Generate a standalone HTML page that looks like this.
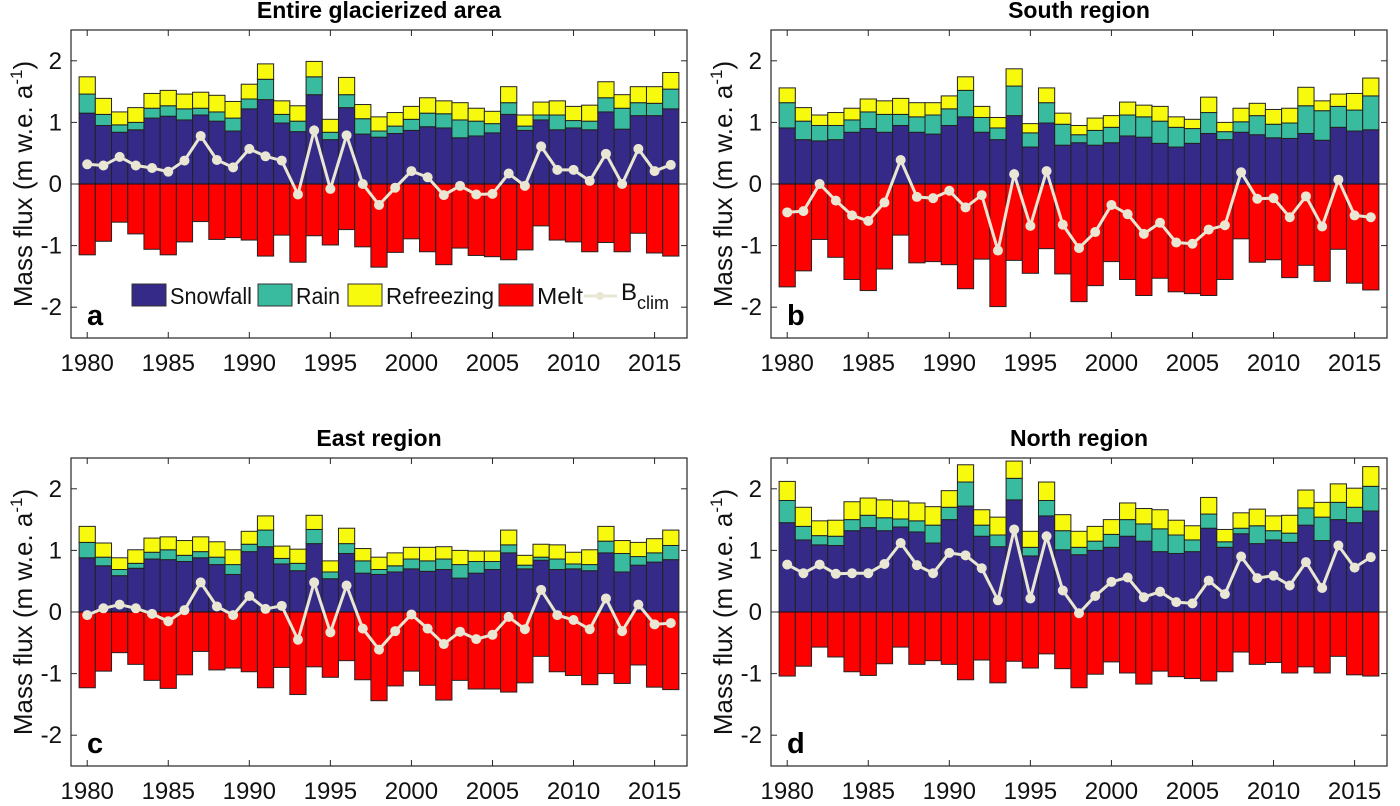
<!DOCTYPE html>
<html><head><meta charset="utf-8">
<style>
html,body{margin:0;padding:0;background:#fff;}
svg{display:block;font-family:"Liberation Sans",Arial,sans-serif;}
</style></head>
<body>
<svg id="fig" width="1400" height="806" viewBox="0 0 1400 806" xmlns="http://www.w3.org/2000/svg"></svg>
<script>
const years = [1980,1981,1982,1983,1984,1985,1986,1987,1988,1989,1990,1991,1992,1993,1994,1995,1996,1997,1998,1999,2000,2001,2002,2003,2004,2005,2006,2007,2008,2009,2010,2011,2012,2013,2014,2015,2016];
const yTicks = [-2,-1,0,1,2];
const xTicks = [1980,1985,1990,1995,2000,2005,2010,2015];
const seriesNames = ["Snowfall","Rain","Refreezing","Melt"];

// Panel a — cumulative stack tops: snowfall, snowfall+rain, snowfall+rain+refreezing
const aSnow = [1.15,0.95,0.84,0.88,1.07,1.10,1.04,1.12,1.02,0.86,1.22,1.37,0.99,0.85,1.45,0.72,1.24,0.81,0.76,0.82,0.87,0.93,0.91,0.75,0.78,0.83,1.13,0.87,1.04,0.88,0.91,0.88,1.17,0.89,1.11,1.11,1.22];
const aRain = [1.46,1.13,0.96,1.00,1.23,1.27,1.22,1.23,1.17,1.07,1.38,1.70,1.13,1.02,1.74,0.84,1.45,1.06,0.86,0.94,1.05,1.15,1.14,1.04,1.02,0.98,1.32,0.94,1.12,1.12,1.03,1.02,1.40,1.23,1.32,1.31,1.54];
const aRefr = [1.74,1.39,1.17,1.24,1.47,1.52,1.46,1.49,1.44,1.34,1.62,1.95,1.35,1.27,1.99,1.05,1.73,1.29,1.09,1.16,1.26,1.40,1.35,1.32,1.23,1.18,1.58,1.12,1.33,1.35,1.26,1.28,1.66,1.45,1.58,1.58,1.81];
const aMelt = [-1.15,-0.93,-0.62,-0.81,-1.06,-1.15,-0.94,-0.61,-0.90,-0.87,-0.91,-1.17,-0.83,-1.27,-0.84,-0.99,-0.74,-1.02,-1.35,-1.11,-0.89,-1.10,-1.31,-1.04,-1.16,-1.18,-1.23,-1.07,-0.68,-0.91,-0.94,-1.10,-0.95,-1.10,-0.80,-1.12,-1.17];
const aB = [0.32,0.30,0.44,0.30,0.26,0.20,0.38,0.78,0.39,0.27,0.57,0.45,0.38,-0.17,0.87,-0.08,0.79,0.00,-0.34,-0.06,0.21,0.11,-0.18,-0.03,-0.17,-0.16,0.17,-0.03,0.61,0.23,0.23,0.05,0.49,0.00,0.57,0.21,0.31];

// Panel b
const bSnow = [0.91,0.72,0.70,0.72,0.84,0.90,0.84,0.95,0.84,0.81,0.95,1.09,0.84,0.72,1.11,0.60,0.99,0.63,0.67,0.63,0.67,0.78,0.76,0.66,0.60,0.66,0.82,0.72,0.84,0.80,0.75,0.74,0.82,0.71,0.92,0.86,0.88];
const bRain = [1.32,1.02,0.95,0.95,1.04,1.17,1.13,1.13,1.09,1.12,1.22,1.52,1.08,0.91,1.59,0.83,1.32,0.97,0.80,0.87,0.92,1.12,1.09,1.02,0.92,0.90,1.16,0.85,1.01,1.11,0.97,0.99,1.27,1.19,1.26,1.20,1.43];
const bRefr = [1.56,1.24,1.12,1.16,1.23,1.38,1.35,1.39,1.32,1.32,1.43,1.74,1.26,1.08,1.87,0.98,1.56,1.15,0.95,1.07,1.11,1.33,1.28,1.26,1.09,1.05,1.41,1.00,1.23,1.31,1.21,1.23,1.57,1.35,1.46,1.47,1.72];
const bMelt = [-1.67,-1.41,-0.90,-1.19,-1.55,-1.73,-1.38,-0.83,-1.28,-1.26,-1.31,-1.70,-1.22,-1.99,-1.24,-1.45,-1.05,-1.46,-1.91,-1.65,-1.26,-1.55,-1.81,-1.53,-1.75,-1.78,-1.81,-1.55,-0.89,-1.27,-1.23,-1.52,-1.32,-1.58,-1.06,-1.61,-1.72];
const bB = [-0.46,-0.44,0.00,-0.27,-0.51,-0.60,-0.30,0.39,-0.21,-0.23,-0.11,-0.38,-0.18,-1.08,0.16,-0.68,0.21,-0.66,-1.04,-0.78,-0.34,-0.49,-0.81,-0.63,-0.95,-0.97,-0.74,-0.67,0.19,-0.24,-0.23,-0.54,-0.20,-0.69,0.07,-0.51,-0.54];

// Panel c
const cSnow = [0.88,0.75,0.59,0.71,0.86,0.85,0.82,0.88,0.77,0.61,0.98,1.06,0.78,0.67,1.11,0.54,0.95,0.63,0.61,0.65,0.70,0.66,0.69,0.55,0.63,0.69,0.96,0.70,0.84,0.69,0.70,0.67,0.96,0.65,0.76,0.81,0.85];
const cRain = [1.13,0.89,0.69,0.79,0.97,1.01,0.92,0.98,0.89,0.77,1.10,1.33,0.87,0.79,1.34,0.65,1.11,0.83,0.69,0.75,0.86,0.83,0.86,0.77,0.82,0.82,1.09,0.76,0.89,0.86,0.78,0.77,1.15,0.95,0.90,0.96,1.08];
const cRefr = [1.39,1.12,0.88,1.01,1.20,1.22,1.16,1.22,1.14,1.01,1.31,1.56,1.07,1.02,1.57,0.83,1.36,1.03,0.89,0.96,1.05,1.05,1.06,1.00,0.99,0.99,1.33,0.92,1.10,1.09,0.97,1.01,1.39,1.16,1.13,1.19,1.33];
const cMelt = [-1.23,-0.96,-0.66,-0.85,-1.11,-1.24,-1.02,-0.64,-0.94,-0.91,-0.97,-1.23,-0.90,-1.34,-0.89,-1.06,-0.79,-1.10,-1.44,-1.20,-0.96,-1.19,-1.43,-1.11,-1.25,-1.25,-1.30,-1.15,-0.72,-0.97,-1.03,-1.18,-1.00,-1.16,-0.86,-1.22,-1.26];
const cB = [-0.05,0.06,0.12,0.06,-0.03,-0.15,0.03,0.48,0.09,-0.05,0.26,0.05,0.10,-0.45,0.48,-0.33,0.43,-0.27,-0.61,-0.31,-0.04,-0.27,-0.52,-0.32,-0.44,-0.37,-0.08,-0.28,0.36,-0.05,-0.13,-0.28,0.22,-0.31,0.12,-0.20,-0.18];

// Panel d
const dSnow = [1.45,1.17,1.09,1.08,1.32,1.37,1.32,1.38,1.30,1.12,1.50,1.72,1.23,1.06,1.82,0.91,1.56,1.01,0.93,1.00,1.05,1.23,1.15,0.98,0.95,0.98,1.36,1.05,1.27,1.11,1.17,1.13,1.41,1.16,1.50,1.45,1.64];
const dRain = [1.81,1.39,1.24,1.23,1.50,1.57,1.53,1.51,1.48,1.41,1.70,2.11,1.41,1.25,2.17,1.05,1.81,1.32,1.05,1.15,1.26,1.50,1.43,1.35,1.25,1.17,1.59,1.14,1.36,1.40,1.32,1.28,1.69,1.54,1.78,1.70,2.04];
const dRefr = [2.12,1.70,1.48,1.49,1.79,1.85,1.82,1.80,1.77,1.71,1.97,2.39,1.66,1.54,2.45,1.31,2.11,1.58,1.31,1.39,1.50,1.77,1.68,1.66,1.49,1.40,1.86,1.34,1.61,1.67,1.56,1.57,1.98,1.78,2.08,2.01,2.36];
const dMelt = [-1.04,-0.88,-0.57,-0.73,-0.97,-1.03,-0.84,-0.57,-0.85,-0.79,-0.85,-1.10,-0.78,-1.15,-0.80,-0.91,-0.68,-0.92,-1.23,-1.01,-0.81,-0.99,-1.17,-0.96,-1.05,-1.08,-1.12,-0.97,-0.65,-0.85,-0.82,-0.99,-0.89,-0.99,-0.72,-1.02,-1.04];
const dB = [0.77,0.63,0.77,0.62,0.63,0.63,0.78,1.12,0.76,0.63,0.96,0.92,0.71,0.19,1.34,0.22,1.23,0.35,-0.02,0.26,0.49,0.56,0.24,0.33,0.16,0.14,0.51,0.29,0.90,0.55,0.59,0.43,0.81,0.39,1.08,0.72,0.89];

const NS = "http://www.w3.org/2000/svg";
const svg = document.getElementById("fig");
const COLORS = {snow:"#352a87", rain:"#38bb9f", refr:"#f8fa0d", melt:"#ff0000", line:"#e9e7d3"};

function mk(tag, attrs, parent){
  const e = document.createElementNS(NS, tag);
  for (const k in attrs) e.setAttribute(k, attrs[k]);
  (parent||svg).appendChild(e);
  return e;
}

function drawPanel(id, title, letter, L, T, snow, rain, refr, melt, bclim, withLegend){
  const W = 616, H = 308;
  const g = mk("g", {});
  
  
  const xS = v => L + (v - 1979) / 38 * W;
  const yS = v => T + (2.5 - v) / 5 * H;

  const t = mk("text", {x: L + W/2, y: T - 12, "text-anchor":"middle", "font-size":"23", "font-weight":"bold"}, g);
  t.textContent = title;
  
  

  const bars = mk("g", {stroke:"#222", "stroke-width":"1"}, g);
  
  
  years.forEach((yr, i) => {
    const x0 = xS(yr - 0.5), bw = xS(yr + 0.5) - x0;
    const segs = [[0, snow[i], COLORS.snow, 'snowfall'], [snow[i], rain[i], COLORS.rain, 'rain'], [rain[i], refr[i], COLORS.refr, 'refreezing'], [melt[i], 0, COLORS.melt, 'melt']];
    segs.forEach(s => {
      const r = mk("rect", {x: x0, y: yS(s[1]), width: bw, height: Math.max(0, yS(s[0]) - yS(s[1])), fill: s[2]}, bars);
      
      
    });
  });
  mk("line", {x1:L, x2:L+W, y1:yS(0), y2:yS(0), stroke:"#111", "stroke-width":"1"}, g);

  const pts = years.map((yr, i) => xS(yr) + "," + yS(bclim[i])).join(" ");
  const pl = mk("polyline", {points: pts, fill:"none", stroke: COLORS.line, "stroke-width":"3"}, g);
  
  
  years.forEach((yr, i) => {
    const c = mk("circle", {cx: xS(yr), cy: yS(bclim[i]), r: 5, fill: COLORS.line}, g);
    
    
  });

  const box = mk("rect", {x:L, y:T, width:W, height:H, fill:"none", stroke:"#262626", "stroke-width":"1.2"}, g);
  
  

  yTicks.forEach(v => {
    mk("line", {x1:L, x2:L+6, y1:yS(v), y2:yS(v), stroke:"#262626"}, g);
    mk("line", {x1:L+W-6, x2:L+W, y1:yS(v), y2:yS(v), stroke:"#262626"}, g);
    const tl = mk("text", {x: L - 9, y: yS(v) + 8, "text-anchor":"end", "font-size":"24", fill:"#111"}, g);
    tl.textContent = v;
    
    
  });
  xTicks.forEach(v => {
    mk("line", {x1:xS(v), x2:xS(v), y1:T+H, y2:T+H-6, stroke:"#262626"}, g);
    mk("line", {x1:xS(v), x2:xS(v), y1:T, y2:T+6, stroke:"#262626"}, g);
    const tl = mk("text", {x: xS(v), y: T + H + 33, "text-anchor":"middle", "font-size":"24", fill:"#111"}, g);
    tl.textContent = v;
    
    
  });

  const yl = mk("text", {x:0, y:0, "text-anchor":"middle", "font-size":"26", fill:"#111", transform:"translate(" + (L - 39) + "," + (T + H/2) + ") rotate(-90)"}, g);
  yl.innerHTML = 'Mass flux (m w.e. a<tspan dy="-10" font-size="17">-1</tspan><tspan dy="10">)</tspan>';
  
  

  const lt = mk("text", {x: L + 16, y: T + H - 13, "font-size":"29", "font-weight":"bold"}, g);
  lt.textContent = letter;
  
  

  if (withLegend) {
    const lg = mk("g", {}, g);
    
    
    const items = [[132, COLORS.snow, seriesNames[0], 82], [258, COLORS.rain, seriesNames[1], 44], [348, COLORS.refr, seriesNames[2], 108], [499, COLORS.melt, seriesNames[3], 46]];
    items.forEach(it => {
      const sw = mk("rect", {x: it[0], y: 284, width: 34, height: 22, fill: it[1], stroke:"#333"}, lg);
      
      
      const tx = mk("text", {x: it[0] + 38, y: 304, "font-size":"23", fill:"#111", textLength: it[3], lengthAdjust:"spacingAndGlyphs"}, lg);
      tx.textContent = it[2];
      
      
    });
    mk("line", {x1:584, x2:617, y1:296, y2:296, stroke:COLORS.line, "stroke-width":"3"}, lg);
    mk("circle", {cx:600, cy:296, r:4, fill:COLORS.line}, lg);
    const bt = mk("text", {x:621, y:300, "font-size":"24", fill:"#111"}, lg);
    bt.innerHTML = 'B<tspan dy="9" font-size="18">clim</tspan>';
    
    
  }
}

drawPanel("entire", "Entire glacierized area", "a", 71, 30, aSnow, aRain, aRefr, aMelt, aB, true);
drawPanel("south", "South region", "b", 771, 30, bSnow, bRain, bRefr, bMelt, bB, false);
drawPanel("east", "East region", "c", 71, 458, cSnow, cRain, cRefr, cMelt, cB, false);
drawPanel("north", "North region", "d", 771, 458, dSnow, dRain, dRefr, dMelt, dB, false);
</script>
</body></html>
